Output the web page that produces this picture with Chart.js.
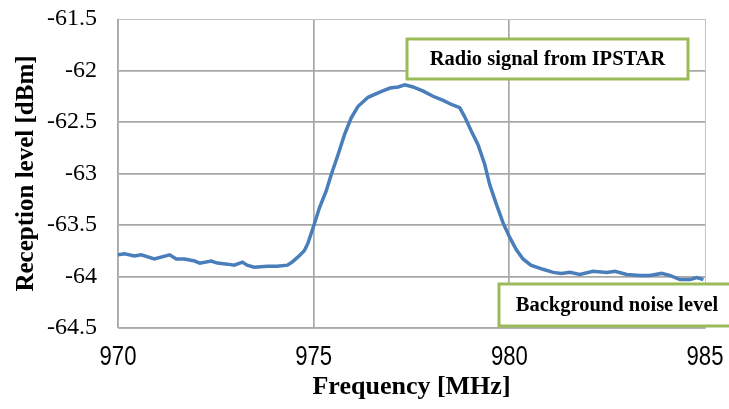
<!DOCTYPE html>
<html>
<head>
<meta charset="utf-8">
<script src="https://cdn.jsdelivr.net/npm/chart.js@4"></script>
<style>
  html, body { margin: 0; padding: 0; background: #ffffff; }
  #wrap { width: 729px; height: 409px; }
</style>
</head>
<body>
<div id="wrap"><canvas id="c" width="729" height="409"></canvas></div>
<script>
// Frequency [MHz]
const frequency = [
  970.00, 970.17, 970.42, 970.59, 970.93, 971.32, 971.49, 971.70, 971.96, 972.09,
  972.38, 972.54, 972.80, 972.97, 973.18, 973.30, 973.48, 973.82, 974.07, 974.33,
  974.45, 974.60, 974.76, 974.85, 975.00, 975.15, 975.32, 975.45, 975.62, 975.79,
  975.96, 976.13, 976.39, 976.69, 976.95, 977.16, 977.33, 977.54, 977.80, 978.05,
  978.31, 978.52, 978.73, 978.86, 979.03, 979.20, 979.37, 979.50, 979.67, 979.84,
  980.01, 980.18, 980.35, 980.55, 980.86, 981.12, 981.33, 981.55, 981.80, 982.14,
  982.49, 982.70, 983.00, 983.34, 983.59, 983.89, 984.10, 984.36, 984.62, 984.79,
  984.96
];
// Reception level [dBm]
const level = [
  -63.79, -63.78, -63.80, -63.79, -63.83, -63.79, -63.83, -63.83, -63.85, -63.87,
  -63.85, -63.87, -63.88, -63.89, -63.86, -63.89, -63.91, -63.90, -63.90, -63.89,
  -63.86, -63.81, -63.75, -63.68, -63.51, -63.33, -63.17, -63.01, -62.82, -62.62,
  -62.46, -62.35, -62.26, -62.21, -62.17, -62.16, -62.14, -62.16, -62.20, -62.25,
  -62.29, -62.33, -62.36, -62.45, -62.59, -62.72, -62.91, -63.11, -63.30, -63.48,
  -63.62, -63.74, -63.83, -63.89, -63.93, -63.96, -63.97, -63.96, -63.98, -63.95,
  -63.96, -63.95, -63.98, -63.99, -63.99, -63.97, -63.99, -64.03, -64.03, -64.01,
  -64.03
];
const xTicks = [970, 975, 980, 985];
const yTicks = [-61.5, -62, -62.5, -63, -63.5, -64, -64.5];
const labelSignal = 'Radio signal from IPSTAR';
const labelNoise = 'Background noise level';
const xTitle = 'Frequency [MHz]';
const yTitle = 'Reception level [dBm]';

const points = frequency.map((f, i) => ({ x: f, y: level[i] }));

const GREEN = '#9BBB59';
const annotationPlugin = {
  id: 'boxes',
  afterDatasetsDraw(chart) {
    const ctx = chart.ctx;
    const boxes = [
      { text: labelSignal, x: 407, y: 39, w: 281, h: 40 },
      { text: labelNoise, x: 499, y: 284, w: 236, h: 42 }
    ];
    ctx.save();
    boxes.forEach(b => {
      ctx.fillStyle = '#ffffff';
      ctx.fillRect(b.x, b.y, b.w, b.h);
      ctx.strokeStyle = GREEN;
      ctx.lineWidth = 3;
      ctx.strokeRect(b.x, b.y, b.w, b.h);
      ctx.fillStyle = '#000000';
      ctx.font = 'bold 20.5px "Liberation Serif", "Times New Roman", serif';
      ctx.textAlign = 'center';
      ctx.textBaseline = 'middle';
      ctx.fillText(b.text, b.x + b.w / 2, b.y + b.h / 2 + 1);
    });
    ctx.restore();
  },
  afterDraw(chart) {
    // x tick labels in a narrow sans face, positioned by the x scale
    const ctx = chart.ctx;
    const xs = chart.scales.x;
    ctx.save();
    ctx.fillStyle = '#000000';
    ctx.font = '28px "Liberation Sans", Arial, sans-serif';
    ctx.textAlign = 'center';
    ctx.textBaseline = 'middle';
    xTicks.forEach(v => {
      const px = xs.getPixelForValue(v);
      ctx.save();
      ctx.translate(px, xs.top + 29);
      ctx.scale(0.79, 1);
      ctx.fillText(String(v), 0, 0);
      ctx.restore();
    });
    ctx.restore();
  }
};

const gridColor = (edgeValue) => (c) =>
  (c.tick && c.tick.value === edgeValue) ? '#C4C4C4' : '#A8A8A8';
const gridWidth = (edgeValue) => (c) =>
  (c.tick && c.tick.value === edgeValue) ? 1 : 1.7;

new Chart(document.getElementById('c'), {
  type: 'line',
  data: {
    datasets: [{
      data: points,
      borderColor: '#4A7EBB',
      borderWidth: 3.5,
      pointRadius: 0,
      tension: 0,
      fill: false
    }]
  },
  options: {
    responsive: false,
    animation: false,
    layout: { padding: { top: 19, right: 24, left: 0, bottom: 0 } },
    plugins: { legend: { display: false }, tooltip: { enabled: false } },
    scales: {
      x: {
        type: 'linear',
        min: 970, max: 985,
        afterBuildTicks: (s) => { s.ticks = xTicks.map(v => ({ value: v })); },
        afterFit: (s) => { s.height = 81; s.paddingLeft = 0; s.paddingRight = 0; },
        grid: { color: gridColor(985), lineWidth: gridWidth(985), drawTicks: false },
        border: { color: '#B4B4B4', width: 1 },
        ticks: { display: false },
        title: {
          display: true,
          text: xTitle,
          color: '#000000',
          font: { family: '"Liberation Serif", "Times New Roman", serif', size: 26, weight: 'bold' },
          padding: { top: 0, bottom: 6 }
        }
      },
      y: {
        type: 'linear',
        min: -64.5, max: -61.5,
        afterBuildTicks: (s) => { s.ticks = yTicks.slice().reverse().map(v => ({ value: v })); },
        afterFit: (s) => { s.width = 118; s.paddingTop = 0; s.paddingBottom = 0; },
        grid: { color: gridColor(-61.5), lineWidth: gridWidth(-61.5), drawTicks: false },
        border: { color: '#B4B4B4', width: 1 },
        ticks: {
          color: '#000000',
          padding: 21,
          font: { family: '"Liberation Serif", "Times New Roman", serif', size: 24 },
          callback: (v) => String(v)
        },
        title: {
          display: true,
          text: yTitle,
          color: '#000000',
          font: { family: '"Liberation Serif", "Times New Roman", serif', size: 25, weight: 'bold' },
          padding: { top: 12, bottom: 0 }
        }
      }
    }
  },
  plugins: [annotationPlugin]
});
</script>
</body>
</html>
